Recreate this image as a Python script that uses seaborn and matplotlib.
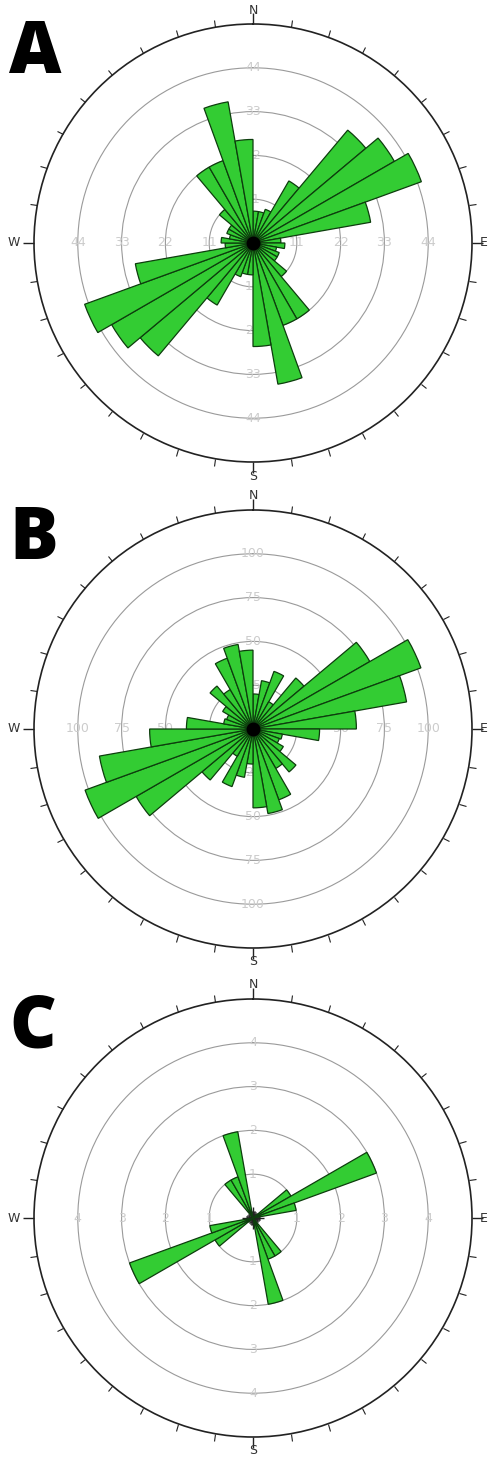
import numpy as np
import matplotlib.pyplot as plt
import seaborn as sns

# 10-degree bins from 0 to 180, mirrored onto 180-360 (bidirectional rose)
bin_start = np.arange(0, 180, 10)
counts_a = [8, 8, 9, 18, 37, 41, 45, 30, 7, 8, 6, 7, 7, 11, 22, 22, 36, 26]
counts_b = [20, 28, 35, 18, 38, 77, 102, 89, 59, 38, 17, 16, 20, 32, 26, 43, 49, 45]
counts_c = [0, 0, 0, 0, 0, 1, 3, 1, 0, 0, 0, 0, 0, 0, 1, 1, 2, 0]
rings_a = [11, 22, 33, 44]
rings_b = [25, 50, 75, 100]
rings_c = [1, 2, 3, 4]
rmax = [55, 125, 5]
panel_labels = ['A', 'B', 'C']
compass = ['N', 'E', 'S', 'W']

sns.set_theme(style='white')
px = 1/100
fig = plt.figure(figsize=(489*px, 1461*px), dpi=100)

W, H = 489, 1461
centers_y = [243, 729, 1218]
rad = 219


def rose(ax, counts, rings, top, dot):
    theta = np.deg2rad(np.concatenate([bin_start, bin_start + 180]) + 5)
    r = np.concatenate([counts, counts])
    ax.set_theta_zero_location('N')
    ax.set_theta_direction(-1)
    ax.bar(theta, r, width=np.deg2rad(10), color='#33cc33',
           edgecolor='#0d3d0d', linewidth=0.9, zorder=3)
    if dot:
        ax.plot([0], [0], 'o', color='black', ms=9, zorder=4)
    ax.set_ylim(0, top)
    ax.set_yticks(rings)
    ax.set_yticklabels([])
    ax.yaxis.grid(True, color='#9a9a9a', lw=0.8)
    ax.xaxis.grid(False)
    ax.set_axisbelow(True)
    ax.set_xticks(np.deg2rad([0, 90, 180, 270]))
    ax.set_xticklabels([])
    ax.set_xticks(np.deg2rad(np.arange(0, 360, 10)), minor=True)
    ax.tick_params(axis='x', which='major', bottom=True, top=True, direction='out',
                   length=8, width=1, color='#222222')
    ax.tick_params(axis='x', which='minor', bottom=True, top=True, direction='out',
                   length=5, width=0.8, color='#222222')
    ax.spines['polar'].set_linewidth(1.2)
    ax.spines['polar'].set_color('#222222')
    for ang in [0, 90, 180, 270]:
        for v in rings:
            ax.text(np.deg2rad(ang), v, str(v), ha='center', va='center',
                    fontsize=9, color='#cccccc', zorder=1)
    # compass letters just outside the outer circle
    offs = [14, 12, 14, 20]
    for ang, lab, o in zip([0, 90, 180, 270], compass, offs):
        ax.text(np.deg2rad(ang), top * (1 + o / rad), lab, ha='center', va='center',
                fontsize=9, color='#333333', clip_on=False)


for i, (counts, rings) in enumerate([(counts_a, rings_a), (counts_b, rings_b), (counts_c, rings_c)]):
    cy = centers_y[i]
    ax = fig.add_axes([(253 - rad)/W, 1 - (cy + rad)/H, 2*rad/W, 2*rad/H], projection='polar')
    rose(ax, counts, rings, rmax[i], i < 2)
    fig.text(9/W, 1 - (cy - 170)/H, panel_labels[i], fontsize=52, fontweight='heavy',
             family=['Open Sans', 'DejaVu Sans'], color='black', ha='left', va='baseline')

fig.savefig('out.png', dpi=100)
